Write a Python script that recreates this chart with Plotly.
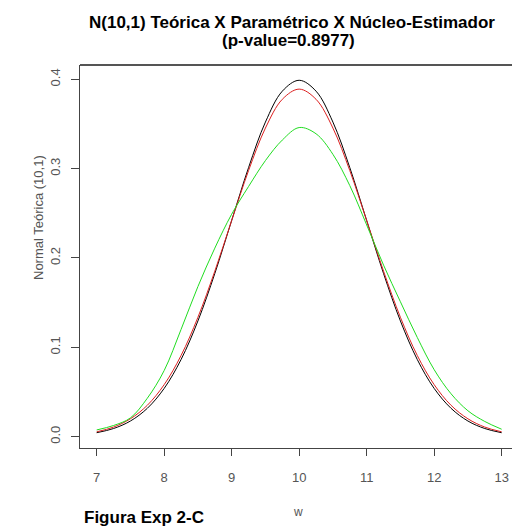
import plotly.graph_objects as go

# x grid (w)
w = [7.0, 7.25, 7.5, 7.75, 8.0, 8.25, 8.5, 8.75, 9.0, 9.25, 9.5, 9.75, 10.0,
     10.25, 10.5, 10.75, 11.0, 11.25, 11.5, 11.75, 12.0, 12.25, 12.5, 12.75, 13.0]

# Teórica N(10,1) (black)
teorica = [0.0044, 0.0091, 0.0175, 0.0317, 0.0540, 0.0863, 0.1295, 0.1826, 0.2420,
           0.3011, 0.3521, 0.3867, 0.3989, 0.3867, 0.3521, 0.3011, 0.2420, 0.1826,
           0.1295, 0.0863, 0.0540, 0.0317, 0.0175, 0.0091, 0.0044]

# Paramétrico (red)
parametrico = [0.0054, 0.0107, 0.0200, 0.0351, 0.0582, 0.0908, 0.1336, 0.1852, 0.2419,
               0.2978, 0.3454, 0.3776, 0.3890, 0.3776, 0.3454, 0.2978, 0.2419, 0.1852,
               0.1336, 0.0908, 0.0582, 0.0351, 0.0200, 0.0107, 0.0054]

# Núcleo-Estimador (green)
nucleo = [0.0075, 0.0125, 0.0210, 0.0430, 0.0740, 0.1200, 0.1680, 0.2110, 0.2490,
          0.2800, 0.3090, 0.3320, 0.3460, 0.3390, 0.3160, 0.2810, 0.2370, 0.1920,
          0.1510, 0.1110, 0.0750, 0.0480, 0.0290, 0.0170, 0.0083]

x_ticks = [7, 8, 9, 10, 11, 12, 13]
y_ticks = [0.0, 0.1, 0.2, 0.3, 0.4]

fig = go.Figure()
fig.add_trace(go.Scatter(x=w, y=teorica, mode="lines", line=dict(color="#000000", width=1, shape="spline")))
fig.add_trace(go.Scatter(x=w, y=parametrico, mode="lines", line=dict(color="#dd2020", width=1, shape="spline")))
fig.add_trace(go.Scatter(x=w, y=nucleo, mode="lines", line=dict(color="#20dd20", width=1, shape="spline")))

font = "Liberation Sans, Arial, sans-serif"
fig.update_layout(
    width=512, height=527,
    margin=dict(l=80, r=0, t=65, b=79),
    paper_bgcolor="white", plot_bgcolor="white",
    showlegend=False,
    font=dict(family=font, size=12, color="#333333"),
    xaxis=dict(range=[6.753, 13.153], tickvals=x_ticks, ticks="outside", ticklen=7,
               tickcolor="#444", showline=True, linecolor="#444", linewidth=1,
               showgrid=False, zeroline=False, ticklabelstandoff=10,
               tickfont=dict(size=13, color="#555")),
    yaxis=dict(range=[-0.0127, 0.416], tickvals=y_ticks, tickformat=".1f", ticks="outside",
               ticklen=8, tickcolor="#444", showline=True, linecolor="#444", linewidth=1,
               showgrid=False, zeroline=False, tickangle=-90, ticklabelstandoff=6,
               tickfont=dict(size=13, color="#555")),
)
fig.add_shape(type="line", xref="paper", yref="paper", x0=0, x1=1, y0=1, y1=1,
              line=dict(color="#555", width=2))
ann = [
    dict(text="<b>N(10,1) Teórica X Paramétrico X Núcleo-Estimador</b>", x=(292 - 80) / 432,
         y=(448 - 22) / 383, font=dict(size=17, color="#000")),
    dict(text="<b>(p-value=0.8977)</b>", x=(288 - 80) / 432, y=(448 - 40) / 383,
         font=dict(size=17, color="#000")),
    dict(text="w", x=(298 - 80) / 432, y=(448 - 512) / 383, font=dict(size=12, color="#555")),
    dict(text="Normal Teórica (10,1)", x=(38 - 80) / 432, y=(448 - 218) / 383, textangle=-90,
         font=dict(size=13, color="#555")),
    dict(text="<b>Figura Exp 2-C</b>", x=(82 - 80) / 432, y=(448 - 517) / 383, xanchor="left",
         font=dict(size=17, color="#000")),
]
for a in ann:
    a.setdefault("xanchor", "center")
    fig.add_annotation(xref="paper", yref="paper", yanchor="middle", showarrow=False, **a)

fig.write_html("out.html")
